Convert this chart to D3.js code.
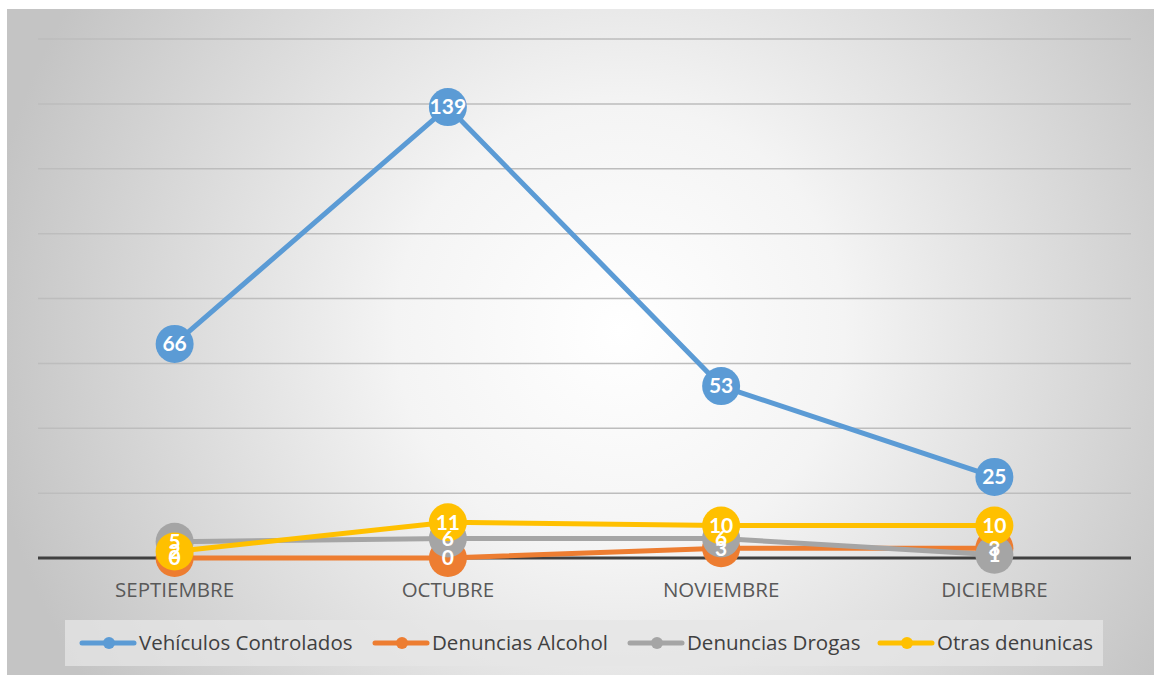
<!DOCTYPE html>
<html>
<head>
<meta charset="utf-8">
<script src="https://cdn.jsdelivr.net/npm/d3@7"></script>
<style>
  body { margin: 0; background: #fff; }
  svg { display: block; }
</style>
</head>
<body>
<svg id="chart" width="1154" height="675"></svg>
<script>
var months = ["SEPTIEMBRE", "OCTUBRE", "NOVIEMBRE", "DICIEMBRE"];
var seriesNames = ["Vehículos Controlados", "Denuncias Alcohol", "Denuncias Drogas", "Otras denunicas"];
var vehiculos = [66, 139, 53, 25];
var alcohol = [0, 0, 3, 3];
var drogas = [5, 6, 6, 1];
var otras = [2, 11, 10, 10];
var yTicks = [0, 20, 40, 60, 80, 100, 120, 140, 160];
var colors = ["#5b9bd5", "#ed7d31", "#a5a5a5", "#ffc000"];

var series = [vehiculos, alcohol, drogas, otras].map(function(v, i) {
    return { name: seriesNames[i], values: v, color: colors[i] };
});

var svg = d3.select("#chart");

// background
var defs = svg.append("defs");
var grad = defs.append("radialGradient")
    .attr("id", "bg")
    .attr("gradientUnits", "userSpaceOnUse")
    .attr("cx", 620).attr("cy", 330).attr("r", 640);
grad.append("stop").attr("offset", "0%").attr("stop-color", "#ffffff");
grad.append("stop").attr("offset", "35%").attr("stop-color", "#f4f4f4");
grad.append("stop").attr("offset", "100%").attr("stop-color", "#c4c4c4");

svg.append("rect")
    .attr("x", 7).attr("y", 9)
    .attr("width", 1147).attr("height", 666)
    .attr("fill", "url(#bg)");

var plotLeft = 38, plotRight = 1131, plotTop = 39, plotBottom = 558;

var x = d3.scaleBand().domain(months).range([plotLeft, plotRight]);
var y = d3.scaleLinear().domain([0, 160]).range([plotBottom, plotTop]);

// gridlines
svg.append("g")
    .selectAll("line")
    .data(yTicks.slice(1))
    .enter()
    .append("line")
    .attr("x1", plotLeft).attr("x2", plotRight)
    .attr("y1", function(d) { return y(d); })
    .attr("y2", function(d) { return y(d); })
    .attr("stroke", "#bdbdbd")
    .attr("stroke-width", 1.5);

// baseline
svg.append("line")
    .attr("x1", plotLeft).attr("x2", plotRight)
    .attr("y1", y(0)).attr("y2", y(0))
    .attr("stroke", "#404040")
    .attr("stroke-width", 3);

// category labels
svg.append("g")
    .selectAll("text")
    .data(months)
    .enter()
    .append("text")
    .attr("x", function(d) { return x(d) + x.bandwidth() / 2; })
    .attr("y", 597)
    .attr("text-anchor", "middle")
    .attr("font-family", "'Open Sans', sans-serif")
    .attr("font-size", 20.5)
    .attr("fill", "#595959")
    .text(function(d) { return d; });

var line = d3.line()
    .x(function(d, i) { return x(months[i]) + x.bandwidth() / 2; })
    .y(function(d) { return y(d); });

series.forEach(function(s) {
    var g = svg.append("g");
    g.append("path")
        .attr("d", line(s.values))
        .attr("fill", "none")
        .attr("stroke", s.color)
        .attr("stroke-width", 5)
        .attr("stroke-linejoin", "round");
    g.selectAll("circle")
        .data(s.values)
        .enter()
        .append("circle")
        .attr("cx", function(d, i) { return x(months[i]) + x.bandwidth() / 2; })
        .attr("cy", function(d) { return y(d); })
        .attr("r", 19)
        .attr("fill", s.color);
});

// data labels on top
series.forEach(function(s) {
    svg.append("g")
        .selectAll("text")
        .data(s.values)
        .enter()
        .append("text")
        .attr("x", function(d, i) { return x(months[i]) + x.bandwidth() / 2; })
        .attr("y", function(d) { return y(d); })
        .attr("dy", "0.35em")
        .attr("text-anchor", "middle")
        .attr("font-family", "Lato, 'Open Sans', sans-serif")
        .attr("font-weight", "bold")
        .attr("font-size", 21)
        .attr("fill", "#ffffff")
        .text(function(d) { return d; });
});

// legend
var legend = svg.append("g");
legend.append("rect")
    .attr("x", 65).attr("y", 620)
    .attr("width", 1038).attr("height", 46)
    .attr("fill", "#e6e6e6")
    .attr("fill-opacity", 0.75);

var legendX = [82, 375, 630, 880];
series.forEach(function(s, i) {
    var lg = legend.append("g").attr("transform", "translate(" + legendX[i] + ",643)");
    lg.append("line")
        .attr("x1", 0).attr("x2", 52)
        .attr("stroke", s.color)
        .attr("stroke-width", 5)
        .attr("stroke-linecap", "round");
    lg.append("circle")
        .attr("cx", 27).attr("r", 6)
        .attr("fill", s.color);
    lg.append("text")
        .attr("x", 57)
        .attr("dy", "0.35em")
        .attr("font-family", "'Open Sans', sans-serif")
        .attr("font-size", 20.5)
        .attr("fill", "#404040")
        .text(s.name);
});
</script>
</body>
</html>
